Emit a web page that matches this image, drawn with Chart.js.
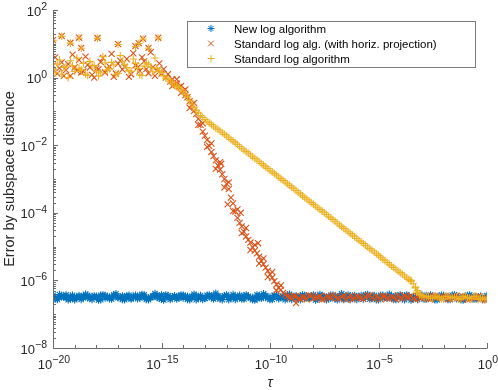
<!DOCTYPE html>
<html><head><meta charset="utf-8">
<script src="https://cdn.jsdelivr.net/npm/chart.js@4/dist/chart.umd.min.js"></script>
<style>html,body{margin:0;padding:0;background:#fff}canvas{display:block}</style>
</head><body>
<canvas id="c" width="498" height="390"></canvas>
<script>
// tau = 10^tauExp (main grid) and 10^tauMid (in-between grid)
const tauExp = [
-20,-19.8,-19.6,-19.4,-19.2,-19,-18.8,-18.6,-18.4,-18.2,
-18,-17.8,-17.6,-17.4,-17.2,-17,-16.8,-16.6,-16.4,-16.2,
-16,-15.8,-15.6,-15.4,-15.2,-15,-14.8,-14.6,-14.4,-14.2,
-14,-13.8,-13.6,-13.4,-13.2,-13,-12.8,-12.6,-12.4,-12.2,
-12,-11.8,-11.6,-11.4,-11.2,-11,-10.8,-10.6,-10.4,-10.2,
-10,-9.8,-9.6,-9.4,-9.2,-9,-8.8,-8.6,-8.4,-8.2,
-8,-7.8,-7.6,-7.4,-7.2,-7,-6.8,-6.6,-6.4,-6.2,
-6,-5.8,-5.6,-5.4,-5.2,-5,-4.8,-4.6,-4.4,-4.2,
-4,-3.8,-3.6,-3.4,-3.2,-3,-2.8,-2.6,-2.4,-2.2,
-2,-1.8,-1.6,-1.4,-1.2,-1,-0.8,-0.6,-0.4,-0.2,
0];
const tauMid = [
-19.9,-19.7,-19.5,-19.3,-19.1,-18.9,-18.7,-18.5,-18.3,-18.1,
-17.9,-17.7,-17.5,-17.3,-17.1,-16.9,-16.7,-16.5,-16.3,-16.1,
-15.9,-15.7,-15.5,-15.3,-15.1,-14.9,-14.7,-14.5,-14.3,-14.1,
-13.9,-13.7,-13.5,-13.3,-13.1,-12.9,-12.7,-12.5,-12.3,-12.1,
-11.9,-11.7,-11.5,-11.3,-11.1,-10.9,-10.7,-10.5,-10.3,-10.1,
-9.9,-9.7,-9.5,-9.3,-9.1,-8.9,-8.7,-8.5,-8.3,-8.1,
-7.9,-7.7,-7.5,-7.3,-7.1,-6.9,-6.7,-6.5,-6.3,-6.1,
-5.9,-5.7,-5.5,-5.3,-5.1,-4.9,-4.7,-4.5,-4.3,-4.1,
-3.9,-3.7,-3.5,-3.3,-3.1,-2.9,-2.7,-2.5,-2.3,-2.1,
-1.9,-1.7,-1.5,-1.3,-1.1,-0.9,-0.7,-0.5,-0.3,-0.1];

// log10 of error: New log algorithm (several trials per tau)
const newLogA = [
-6.48,-6.52,-6.45,-6.50,-6.47,-6.53,-6.49,-6.46,-6.51,-6.48,
-6.50,-6.44,-6.52,-6.49,-6.47,-6.51,-6.46,-6.50,-6.53,-6.48,
-6.45,-6.49,-6.52,-6.47,-6.50,-6.43,-6.49,-6.51,-6.46,-6.48,
-6.52,-6.47,-6.50,-6.45,-6.49,-6.53,-6.48,-6.46,-6.51,-6.49,
-6.47,-6.52,-6.48,-6.50,-6.46,-6.49,-6.51,-6.54,-6.50,-6.47,
-6.49,-6.45,-6.52,-6.48,-6.50,-6.47,-6.51,-6.46,-6.49,-6.53,
-6.48,-6.50,-6.45,-6.49,-6.52,-6.47,-6.50,-6.48,-6.51,-6.46,
-6.49,-6.52,-6.47,-6.50,-6.45,-6.49,-6.51,-6.48,-6.53,-6.47,
-6.50,-6.46,-6.49,-6.52,-6.48,-6.50,-6.45,-6.51,-6.49,-6.47,
-6.52,-6.48,-6.50,-6.46,-6.51,-6.49,-6.53,-6.48,-6.50,-6.52,-6.50];
const newLogC = [
-6.44,-6.56,-6.48,-6.43,-6.55,-6.57,-6.45,-6.51,-6.44,-6.56,
-6.47,-6.57,-6.45,-6.54,-6.43,-6.49,-6.56,-6.46,-6.55,-6.44,
-6.52,-6.43,-6.57,-6.48,-6.45,-6.55,-6.43,-6.56,-6.46,-6.51,
-6.44,-6.56,-6.48,-6.57,-6.45,-6.53,-6.43,-6.55,-6.46,-6.57,
-6.43,-6.50,-6.56,-6.44,-6.55,-6.47,-6.57,-6.43,-6.53,-6.45,
-6.56,-6.44,-6.54,-6.48,-6.43,-6.56,-6.46,-6.57,-6.45,-6.51,
-6.43,-6.55,-6.49,-6.57,-6.44,-6.54,-6.46,-6.56,-6.43,-6.52,
-6.56,-6.45,-6.43,-6.55,-6.48,-6.57,-6.44,-6.53,-6.46,-6.56,
-6.43,-6.57,-6.47,-6.51,-6.56,-6.44,-6.55,-6.43,-6.57,-6.48,
-6.45,-6.56,-6.44,-6.54,-6.57,-6.46,-6.43,-6.55,-6.50,-6.56,-6.45];
const newLogMid = [
-6.55,-6.42,-6.50,-6.57,-6.44,-6.49,-6.56,-6.41,-6.53,-6.46,
-6.58,-6.43,-6.48,-6.55,-6.40,-6.51,-6.57,-6.44,-6.47,-6.54,
-6.42,-6.56,-6.50,-6.39,-6.53,-6.58,-6.45,-6.49,-6.55,-6.43,
-6.47,-6.57,-6.41,-6.52,-6.56,-6.44,-6.50,-6.38,-6.54,-6.46,
-6.57,-6.42,-6.49,-6.55,-6.43,-6.52,-6.58,-6.45,-6.40,-6.53,
-6.56,-6.44,-6.50,-6.57,-6.41,-6.48,-6.55,-6.43,-6.52,-6.46,
-6.58,-6.42,-6.49,-6.54,-6.44,-6.57,-6.40,-6.51,-6.56,-6.45,
-6.48,-6.55,-6.42,-6.53,-6.57,-6.44,-6.50,-6.41,-6.56,-6.47,
-6.54,-6.43,-6.58,-6.49,-6.42,-6.55,-6.46,-6.52,-6.57,-6.44,
-6.50,-6.56,-6.43,-6.53,-6.58,-6.45,-6.51,-6.55,-6.47,-6.57];

// log10 of error: Standard log alg. (with horiz. projection)
const stdProj = [
0.35,0.12,0.45,0.22,0.05,0.30,0.52,0.18,0.38,0.08,
0.27,0.46,0.15,0.33,0.02,0.41,0.24,0.55,0.10,0.36,
0.20,0.48,0.13,0.31,0.22,0.12,
0.00,-0.12,-0.20,-0.28,-0.40,-0.58,-0.80,-1.08,-1.40,-1.72,
-2.02,-2.32,-2.60,-2.86,-3.14,-3.55,-3.96,-4.30,-4.56,-4.80,
-5.02,-5.20,-5.42,-5.62,-5.82,-6.02,-6.22,-6.37,-6.46,
-6.52,-6.47,-6.55,-6.49,-6.44,-6.53,-6.50,-6.57,-6.46,-6.51,
-6.48,-6.54,-6.45,-6.50,-6.56,-6.47,-6.52,-6.49,-6.44,-6.55,
-6.50,-6.46,-6.53,-6.48,-6.57,-6.51,-6.45,-6.50,-6.54,-6.47,
-6.52,-6.49,-6.56,-6.46,-6.51,-6.48,-6.55,-6.50,-6.45,-6.53,
-6.49,-6.56,-6.51,-6.47,-6.54,-6.52];
const stdProjMid = [
0.60,0.28,0.05,0.40,0.68,0.20,0.15,0.62,0.30,0.00,
0.25,0.58,0.26,0.70,0.12,0.50,0.32,0.02,0.72,0.30,
0.60,0.25,0.75,0.05,0.42,0.25,0.10,-0.05,-0.18,-0.25,
-0.52,-0.70,-0.98,-1.22,-1.60,-1.85,-2.20,-2.45,-2.72,-3.00,
-3.30,-3.72,-4.15,-4.40,-4.70,-4.88,-5.12,-5.30,-5.52,-5.72,
-5.92,-6.12,-6.28,-6.42,-6.50,-6.46,-6.54,-6.49,-6.56,-6.45,
-6.51,-6.47,-6.55,-6.50,-6.44,-6.53,-6.48,-6.57,-6.46,-6.52,
-6.49,-6.55,-6.45,-6.51,-6.48,-6.56,-6.47,-6.53,-6.50,-6.44,
-6.54,-6.49,-6.46,-6.57,-6.52,-6.48,-6.55,-6.45,-6.51,-6.53,
-6.47,-6.56,-6.50,-6.54,-6.48,-6.57,-6.52,-6.49,-6.55,-6.58];
const stdProjExtraExp = [
-20,-19.6,-19.2,-18.8,-18.7,-17.95,-17,-16.2,-16.05,-15.85,-15.6,-15.15,
-11.95,-10.55,-12.25,-11.35,-8.8,
-14.5,-14.3,-14.1,-13.9,-13.7,-13.5,-13.3,-13.1,-12.9,-12.7,-12.5,-12.3,-12.1,
-11.9,-11.7,-11.5,-11.3,-11.1,-10.9,-10.7,-10.5,-10.3,-10.1,-9.9,-9.7,-9.5];
const stdProjExtra = [
1.11,1.23,1.03,1.18,0.88,1.17,0.99,0.93,1.02,1.15,0.88,1.18,
-3.75,-4.90,-2.55,-4.00,-6.67,
-0.25,-0.05,-0.45,-0.35,-0.90,-0.75,-1.40,-1.35,-2.05,-1.95,-2.70,-2.50,-3.25,
-3.10,-3.95,-3.90,-4.60,-4.45,-5.10,-4.95,-5.50,-5.35,-5.90,-5.75,-6.30,-6.15];

// log10 of error: Standard log algorithm
const stdLog = [
0.25,0.40,0.10,0.32,0.50,0.18,0.28,0.42,0.06,0.35,
0.20,0.14,0.44,0.26,0.38,0.12,0.47,0.30,0.19,0.42,
0.08,0.34,0.40,0.17,0.28,0.15,
-0.02,-0.10,-0.22,-0.30,-0.42,-0.57,-0.78,-0.97,-1.12,-1.24,
-1.34,-1.44,-1.53,-1.63,-1.73,-1.83,-1.93,-2.04,-2.14,-2.24,
-2.34,-2.44,-2.54,-2.64,-2.74,
-2.84,-2.94,-3.04,-3.14,-3.24,-3.34,-3.44,-3.55,-3.65,-3.75,
-3.85,-3.95,-4.05,-4.15,-4.25,-4.36,-4.46,-4.56,-4.66,-4.76,
-4.86,-4.96,-5.06,-5.16,-5.26,-5.37,-5.47,-5.57,-5.67,-5.77,
-5.87,-5.97,
-6.10,-6.30,-6.45,
-6.48,-6.53,-6.46,-6.50,-6.55,-6.47,-6.51,-6.49,-6.54,-6.46,
-6.52,-6.48,-6.56,-6.50,-6.53];
const stdLogMid = [
0.15,0.52,0.30,0.00,0.35,0.58,0.22,0.10,0.48,0.36,
0.05,0.62,0.22,0.45,0.10,0.65,0.38,0.20,0.55,0.28,
0.06,0.44,0.30,0.58,0.20,0.05,-0.05,-0.16,-0.26,-0.36,
-0.50,-0.68,-0.88,-1.05,-1.18,-1.29,-1.39,-1.49,-1.58,-1.68,
-1.78,-1.88,-1.98,-2.09,-2.19,-2.29,-2.39,-2.49,-2.59,-2.69,
-2.79,-2.89,-2.99,-3.09,-3.19,-3.29,-3.39,-3.50,-3.60,-3.70,
-3.80,-3.90,-4.00,-4.10,-4.20,-4.31,-4.41,-4.51,-4.61,-4.71,
-4.81,-4.91,-5.01,-5.11,-5.21,-5.31,-5.42,-5.52,-5.62,-5.72,
-5.82,-5.92,-6.02,-6.22,-6.40,-6.50,-6.46,-6.53,-6.49,-6.55,
-6.47,-6.52,-6.50,-6.56,-6.48,-6.51,-6.54,-6.46,-6.53,-6.57];
const stdLogExtraExp = [
-20,-19.6,-19.2,-18.8,-18.7,-17.95,-17,-16.2,-16.05,-15.85,-15.6,-15.15,
-3.5,-3.3,-3.25,-3.1];
const stdLogExtra = [
1.10,1.22,1.02,1.17,0.87,1.16,0.98,0.92,1.01,1.14,0.87,1.17,
-6.00,-6.20,-6.35,-6.42];

const seriesNames = ['New log algorithm', 'Standard log alg. (with horiz. projection)', 'Standard log algorithm'];
const seriesColors = ['#0072BD', '#D95319', '#EDB120'];
const xTickExp = [-20, -15, -10, -5, 0];
const yTickExp = [-8, -6, -4, -2, 0, 2];

const pts = (ex, ly) => ex.map((e, i) => ({x: Math.pow(10, e), y: Math.pow(10, ly[i])}));

function mkSet(label, data, color, style, radius, order) {
  return {label, data, borderColor: color, backgroundColor: color, pointStyle: style,
    pointRadius: radius, pointBorderWidth: 1.1, pointHoverRadius: radius, showLine: false, order};
}

const datasets = [
  mkSet(seriesNames[0], pts(tauExp, newLogA), seriesColors[0], 'star', 3.8, 3),
  mkSet(seriesNames[0], pts(tauExp, newLogC), seriesColors[0], 'star', 3.8, 3),
  mkSet(seriesNames[0], pts(tauMid, newLogMid), seriesColors[0], 'star', 3.8, 3),
  mkSet(seriesNames[1], pts(tauExp, stdProj), seriesColors[1], 'crossRot', 4.3, 2),
  mkSet(seriesNames[1], pts(tauMid, stdProjMid), seriesColors[1], 'crossRot', 4.3, 2),
  mkSet(seriesNames[1], pts(stdProjExtraExp, stdProjExtra), seriesColors[1], 'crossRot', 4.3, 2),
  mkSet(seriesNames[2], pts(tauExp, stdLog), seriesColors[2], 'cross', 3.8, 1),
  mkSet(seriesNames[2], pts(tauMid, stdLogMid), seriesColors[2], 'cross', 3.8, 1),
  mkSet(seriesNames[2], pts(stdLogExtraExp, stdLogExtra), seriesColors[2], 'cross', 3.8, 1)
];

const FONT = '"Liberation Sans", Arial, Helvetica, sans-serif';
const AXC = '#262626';

function supLabel(ctx, x, y, n, align) {
  const exp = n < 0 ? '\u2212' + (-n) : String(n);
  ctx.font = '13px ' + FONT;
  const wb = ctx.measureText('10').width;
  ctx.font = '10.5px ' + FONT;
  const we = ctx.measureText(exp).width;
  const total = wb + we;
  const x0 = align === 'right' ? x - total : x - total / 2;
  ctx.textAlign = 'left';
  ctx.textBaseline = 'alphabetic';
  ctx.fillStyle = AXC;
  ctx.font = '13px ' + FONT;
  ctx.fillText('10', x0, y);
  ctx.font = '10.5px ' + FONT;
  ctx.fillText(exp, x0 + wb, y - 5.5);
}

function marker(ctx, style, x, y, r, color) {
  ctx.save();
  ctx.strokeStyle = color; ctx.lineWidth = 1;
  ctx.beginPath();
  if (style === 'cross' || style === 'star') {
    ctx.moveTo(x - r, y); ctx.lineTo(x + r, y);
    ctx.moveTo(x, y - r); ctx.lineTo(x, y + r);
  }
  if (style === 'crossRot' || style === 'star') {
    const d = r * Math.SQRT1_2;
    ctx.moveTo(x - d, y - d); ctx.lineTo(x + d, y + d);
    ctx.moveTo(x - d, y + d); ctx.lineTo(x + d, y - d);
  }
  ctx.stroke();
  ctx.restore();
}

const axesPlugin = {
  id: 'matlabAxes',
  afterDraw(chart) {
    const ctx = chart.ctx, xs = chart.scales.x, ys = chart.scales.y, a = chart.chartArea;
    ctx.save();
    ctx.strokeStyle = '#6a6a6a';
    ctx.lineWidth = 1;
    ctx.beginPath();
    ctx.moveTo(a.left + 0.5, a.top); ctx.lineTo(a.left + 0.5, a.bottom);
    ctx.moveTo(a.left, a.bottom + 0.5); ctx.lineTo(a.right + 0.5, a.bottom + 0.5);
    for (let n = -8; n <= 2; n++) {
      const py = Math.round(ys.getPixelForValue(Math.pow(10, n))) + 0.5;
      const len = (n % 2 === 0) ? 5 : 3;
      ctx.moveTo(a.left, py); ctx.lineTo(a.left + len, py);
      if (n < 2) {
        for (let k = 2; k <= 9; k++) {
          const p = Math.round(ys.getPixelForValue(k * Math.pow(10, n))) + 0.5;
          ctx.moveTo(a.left, p); ctx.lineTo(a.left + 3, p);
        }
      }
    }
    for (let n = -20; n <= 0; n++) {
      const px = Math.round(xs.getPixelForValue(Math.pow(10, n))) + 0.5;
      const len = (n % 5 === 0) ? 5 : 3;
      ctx.moveTo(px, a.bottom); ctx.lineTo(px, a.bottom - len);
    }
    ctx.stroke();
    yTickExp.forEach(n => {
      const py = ys.getPixelForValue(Math.pow(10, n));
      supLabel(ctx, a.left - 6, py + 5.5, n, 'right');
    });
    xTickExp.forEach(n => {
      const px = xs.getPixelForValue(Math.pow(10, n));
      supLabel(ctx, px + 1, a.bottom + 20.5, n, 'center');
    });
    ctx.fillStyle = AXC;
    ctx.font = 'italic 14px ' + FONT;
    ctx.textAlign = 'center';
    ctx.textBaseline = 'alphabetic';
    ctx.fillText('\u03C4', (a.left + a.right) / 2, 387);
    ctx.save();
    ctx.translate(13.5, (a.top + a.bottom) / 2);
    ctx.rotate(-Math.PI / 2);
    ctx.font = '14.5px ' + FONT;
    ctx.fillText('Error by subspace distance', 0, 0);
    ctx.restore();
    const lx = 187.5, ly = 21.5, lw = 288, lh = 46;
    ctx.fillStyle = '#fff';
    ctx.fillRect(lx, ly, lw, lh);
    ctx.strokeStyle = '#7a7a7a';
    ctx.lineWidth = 1;
    ctx.strokeRect(lx, ly, lw, lh);
    const styles = ['star', 'crossRot', 'cross'];
    const radii = [3.5, 4, 3.5];
    const baselines = [32.7, 47.7, 62.7];
    ctx.font = '11.5px ' + FONT;
    ctx.textAlign = 'left';
    for (let i = 0; i < 3; i++) {
      marker(ctx, styles[i], 211, baselines[i] - 4.2, radii[i], seriesColors[i]);
      ctx.fillStyle = '#000';
      ctx.fillText(seriesNames[i], 234, baselines[i]);
    }
    ctx.restore();
  }
};

new Chart(document.getElementById('c'), {
  type: 'scatter',
  data: {datasets},
  options: {
    responsive: false,
    devicePixelRatio: 1,
    animation: false,
    layout: {padding: {left: 53, right: 11, top: 10, bottom: 42}},
    plugins: {legend: {display: false}, tooltip: {enabled: false}},
    scales: {
      x: {type: 'logarithmic', min: 1e-20, max: 1, display: false},
      y: {type: 'logarithmic', min: 1e-8, max: 100, display: false}
    }
  },
  plugins: [axesPlugin]
});
</script>
</body></html>
